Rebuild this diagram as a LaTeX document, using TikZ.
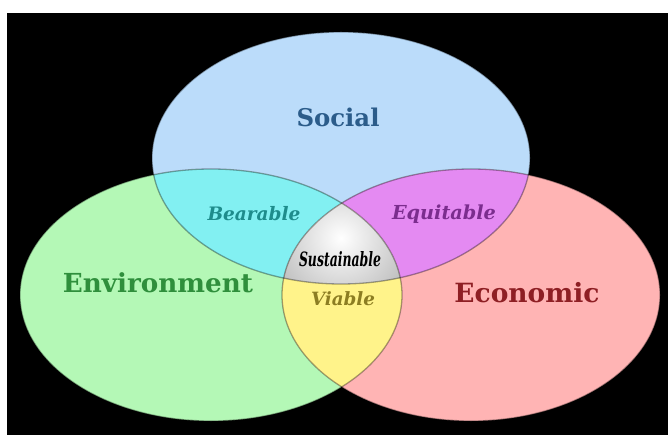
\documentclass[tikz,border=0pt]{standalone}
\usepackage{fontspec}
\setmainfont{DejaVu Serif}
\usepackage{graphicx}
\definecolor{blueF}{HTML}{BBDCFA}
\definecolor{greenF}{HTML}{B4F8B6}
\definecolor{redF}{HTML}{FFB4B4}
\definecolor{cyanF}{HTML}{82F0F2}
\definecolor{magF}{HTML}{E48AF2}
\definecolor{yelF}{HTML}{FFF38A}
\definecolor{socialT}{HTML}{2B5C8A}
\definecolor{bearT}{HTML}{1E8C8C}
\definecolor{equiT}{HTML}{7B2D8E}
\definecolor{envT}{HTML}{2F8F3C}
\definecolor{ecoT}{HTML}{8E1F24}
\definecolor{viaT}{HTML}{8C7D22}
\begin{document}
\begin{tikzpicture}[x=1pt,y=-1pt,
  outline/.style={draw=black,draw opacity=0.35,line width=1.3pt},
  lbl/.style={inner sep=0pt,font=\bfseries},
  ilbl/.style={inner sep=0pt,font=\bfseries\itshape}]
\def\blueE{(341,158) ellipse [x radius=189, y radius=126]}
\def\greenE{(211,295) ellipse [x radius=191, y radius=126]}
\def\redE{(471,295) ellipse [x radius=189, y radius=126]}
\useasboundingbox (0,0) rectangle (668,435);
\fill[white] (0,0) rectangle (668,435);
\fill[black] (7,13) rectangle (668,435);
% base sets
\fill[blueF] \blueE;
\fill[greenF] \greenE;
\fill[redF] \redE;
% pairwise intersections
\begin{scope}\clip \blueE; \fill[cyanF] \greenE; \end{scope}
\begin{scope}\clip \blueE; \fill[magF] \redE; \end{scope}
\begin{scope}\clip \greenE; \fill[yelF] \redE; \end{scope}
% triple intersection
\begin{scope}
  \clip \blueE; \clip \greenE; \clip \redE;
  \shade[inner color=white,outer color=black!28] (341,238) circle (80);
\end{scope}
% outlines
\path[outline] \blueE;
\path[outline] \greenE;
\path[outline] \redE;
% labels
\node[lbl,text=socialT] (social) at (338,117) {\resizebox{83pt}{!}{Social}};
\node[ilbl,text=bearT] (bear) at (254,214) {\resizebox{93pt}{!}{Bearable}};
\node[ilbl,text=equiT] (equi) at (444,214) {\resizebox{104pt}{!}{Equitable}};
\node[ilbl,text=black] (sus) at (340,259) {\resizebox{82pt}{15pt}{Sustainable}};
\node[lbl,text=envT] (env) at (158,283) {\resizebox{190pt}{!}{Environment}};
\node[lbl,text=ecoT] (eco) at (527,293) {\resizebox{145pt}{!}{Economic}};
\node[ilbl,text=viaT] (via) at (343,299) {\resizebox{64pt}{!}{Viable}};
\end{tikzpicture}
\end{document}
